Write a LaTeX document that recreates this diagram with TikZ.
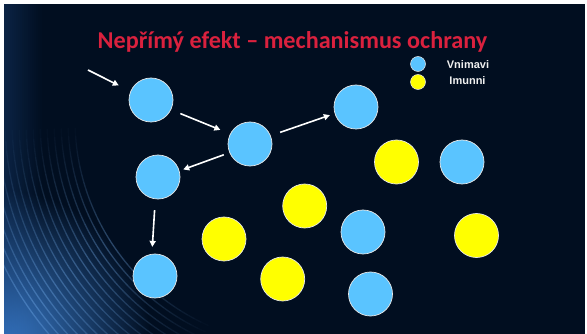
\documentclass[tikz,border=0pt]{standalone}
\usepackage{fontspec}
\setmainfont{Carlito}
\newfontfamily\legendfont{Liberation Sans}
\usetikzlibrary{arrows.meta}
\definecolor{bg}{RGB}{1,14,32}
\definecolor{sky}{RGB}{90,196,255}
\definecolor{yel}{RGB}{255,255,0}
\definecolor{ttl}{RGB}{218,33,62}
\definecolor{glow}{RGB}{60,128,210}
\definecolor{streak}{RGB}{130,190,255}
\definecolor{edgeblue}{RGB}{30,75,135}
\begin{document}
\begin{tikzpicture}[x=1pt,y=-1pt,
  ball/.style={circle,minimum size=44pt,inner sep=0pt,draw=white!82!gray,line width=0.7pt},
  sus/.style={ball,fill=sky},
  imm/.style={ball,fill=yel},
  lball/.style={circle,minimum size=15pt,inner sep=0pt,draw=white!82!gray,line width=0.5pt},
  arr/.style={white,line width=1.6pt,-{Triangle[length=6pt,width=6pt]}},
  leg/.style={font=\legendfont\bfseries\fontsize{11}{13}\selectfont,text=white!88!gray,anchor=base,inner sep=0pt},
  ttlstyle/.style={font=\bfseries\fontsize{24.2}{28}\selectfont,text=ttl,anchor=base,inner sep=0pt}]
\useasboundingbox (0,0) rectangle (587,334);
\fill[white] (0,0) rectangle (587,334);
\fill[bg] (4,4) rectangle (585,334);
\begin{scope}
  \clip (4,4) rectangle (585,334);
  \shade[inner color=glow,outer color=bg] (0,340) circle (150);
  \foreach \x in {4,6,...,40}{
    \pgfmathsetmacro{\op}{0.35*(1-(\x-4)/38)}
    \fill[edgeblue,opacity=\op] (\x,4) rectangle ++(2,330);
  }
  \foreach \r in {225,232,...,330}{
    \foreach \a in {110,112,...,178}{
      \pgfmathsetmacro{\op}{max(0,0.32*(1-abs(\a-145)/33))}
      \draw[streak,line width=1.3pt,opacity=\op] (300,120) ++(\a:\r) arc[start angle=\a,end angle=\a+2,radius=\r];
    }
  }
\end{scope}

\node[ttlstyle] (title) at (292.5,48.7) {Nepřímý efekt – mechanismus ochrany};

\node[lball,fill=sky] (lv) at (418,64) {};
\node[lball,fill=yel] (li) at (418,82) {};
\node[leg] (tv) at (468,69) {Vnimavi};
\node[leg] (ti) at (467.5,85) {Imunni};

\node[sus] (A) at (151,100) {};
\node[sus] (B) at (250,144) {};
\node[sus] (C) at (356,107) {};
\node[sus] (D) at (158,177) {};
\node[sus] (E) at (155,276) {};
\node[sus] (F) at (462,162) {};
\node[sus] (G) at (363,232) {};
\node[sus] (H) at (370.5,294) {};
\node[imm] (Y1) at (396.5,162) {};
\node[imm] (Y2) at (304.7,206) {};
\node[imm] (Y3) at (224,239) {};
\node[imm] (Y4) at (282.7,279) {};
\node[imm] (Y5) at (476.5,235.5) {};

\coordinate (in) at (88,70);
\draw[arr,shorten >=13pt] (in) -- (A.157);
\draw[arr,shorten <=10pt,shorten >=10.5pt] (A.-26) -- (B.153);
\draw[arr,shorten <=10pt,shorten >=5pt] (B.22) -- (C.197);
\draw[arr,shorten <=6pt,shorten >=4pt] (B.203) -- (D.16);
\draw[arr,shorten <=11pt,shorten >=7pt] (D.263) -- (E.98);
\end{tikzpicture}
\end{document}
